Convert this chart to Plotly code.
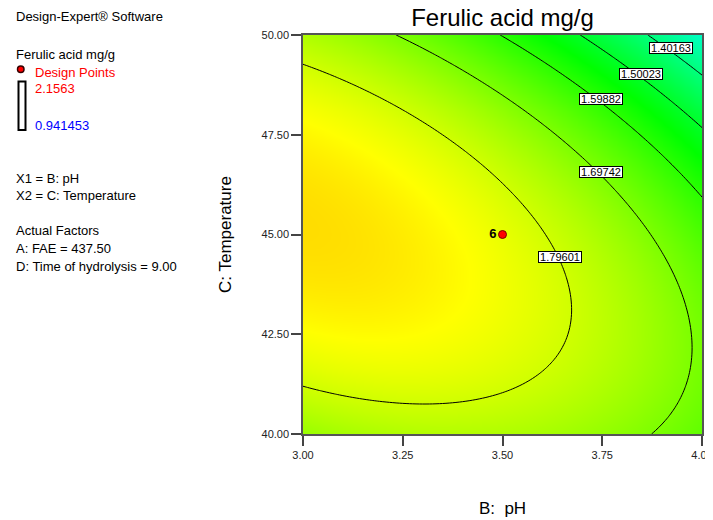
import numpy as np
import plotly.graph_objects as go

# ---- Data -------------------------------------------------------------
# Response-surface model (coded units):
# z = b0 + b1*x + b2*y + b12*x*y + b11*x^2 + b22*y^2
# x = (pH - 3.5)/0.5, y = (Temperature - 45)/5
model_terms = ["b0", "b1", "b2", "b12", "b11", "b22"]
model_coefs = [1.82647, -0.12818, -0.08037, -0.09426, -0.06140, -0.14981]

ph_range = [3.00, 4.00]
temp_range = [40.00, 50.00]
ph_center, ph_step = 3.5, 0.5
temp_center, temp_step = 45.0, 5.0

contour_levels = [1.40163, 1.50023, 1.59882, 1.69742, 1.79601]
label_ph = [3.922, 3.848, 3.747, 3.747, 3.643]
label_temp = [49.67, 49.03, 48.39, 46.57, 44.44]

design_ph = [3.50]
design_temp = [45.00]
design_count = ["6"]

resp_min, resp_max = 0.941453, 2.1563

x_ticks = [3.00, 3.25, 3.50, 3.75, 4.00]
y_ticks = [40.00, 42.50, 45.00, 47.50, 50.00]

# ---- Surface -----------------------------------------------------------
ph = np.linspace(ph_range[0], ph_range[1], 121)
temp = np.linspace(temp_range[0], temp_range[1], 121)
PH, TT = np.meshgrid(ph, temp)
xc = (PH - ph_center) / ph_step
yc = (TT - temp_center) / temp_step
b0, b1, b2, b12, b11, b22 = model_coefs
Z = b0 + b1 * xc + b2 * yc + b12 * xc * yc + b11 * xc ** 2 + b22 * yc ** 2

FONT = "Liberation Sans, Arial, Helvetica, sans-serif"

colorscale = [
    [0.00, "rgb(0,0,255)"],
    [0.25, "rgb(0,255,255)"],
    [0.50, "rgb(0,255,0)"],
    [0.75, "rgb(255,255,0)"],
    [1.00, "rgb(255,0,0)"],
]

fig = go.Figure()
step = (contour_levels[-1] - contour_levels[0]) / (len(contour_levels) - 1)
fig.add_trace(go.Contour(
    x=ph, y=temp, z=Z,
    colorscale=colorscale, zmin=resp_min, zmax=resp_max,
    contours=dict(start=contour_levels[0], end=contour_levels[-1] + 1e-6,
                  size=step, coloring="heatmap", showlabels=False),
    line=dict(color="black", width=1, smoothing=1.0),
    showscale=False, hoverinfo="skip",
))

fig.add_trace(go.Scatter(
    x=design_ph, y=design_temp, mode="markers+text",
    marker=dict(color="red", size=8, line=dict(color="#7a0000", width=1)),
    text=["<b>%s</b>" % c for c in design_count], textposition="middle left",
    textfont=dict(family=FONT, size=13, color="black"),
    showlegend=False, hoverinfo="skip",
))

for lv, lx, ly in zip(contour_levels, label_ph, label_temp):
    fig.add_annotation(x=lx, y=ly, xref="x", yref="y", text="%.5f" % lv,
                       showarrow=False, bgcolor="white", bordercolor="black",
                       borderwidth=1, borderpad=0, width=42, height=10,
                       font=dict(family=FONT, size=11, color="black"))

# ---- Geometry (the page body adds an 8px offset) -----------------------
OFF = 8
FW, FH = 713 - OFF, 520 - OFF
L, R, T, B = 303 - OFF, 702 - OFF, 35 - OFF, 434 - OFF
W, H = R - L, B - T


def px(x):
    return (x - OFF - L) / W


def py(y):
    return (B - (y - OFF)) / H


panel = [
    ("Design-Expert® Software", 14, 17, "black"),
    ("Ferulic acid mg/g", 14, 54, "black"),
    ("Design Points", 33, 72, "red"),
    ("2.1563", 33, 88, "red"),
    ("0.941453", 33, 125, "blue"),
    ("X1 = B: pH", 14, 178, "black"),
    ("X2 = C: Temperature", 14, 195, "black"),
    ("Actual Factors", 14, 230, "black"),
    ("A: FAE = 437.50", 14, 248, "black"),
    ("D: Time of hydrolysis = 9.00", 14, 266, "black"),
]
for txt, x0, y0, col in panel:
    fig.add_annotation(x=px(x0), y=py(y0), xref="paper", yref="paper",
                       text=txt, showarrow=False, xanchor="left", yanchor="middle",
                       font=dict(family=FONT, size=13, color=col))

fig.add_shape(type="rect", xref="paper", yref="paper",
              x0=px(18.5), x1=px(25.5), y0=py(130), y1=py(81.5),
              line=dict(color="black", width=2), fillcolor="white")
fig.add_shape(type="circle", xref="paper", yref="paper",
              x0=px(17.5), x1=px(24), y0=py(72.5), y1=py(66),
              line=dict(color="#330000", width=1.5), fillcolor="red")

axis_common = dict(showgrid=False, zeroline=False, showline=True, mirror=True,
                   linecolor="#555555", linewidth=1.5, ticks="outside",
                   ticklen=10, tickwidth=1.5, tickcolor="#444444",
                   automargin=False,
                   tickfont=dict(family=FONT, size=11, color="#222222"))

fig.update_layout(
    width=FW, height=FH,
    margin=dict(l=L, r=FW - R, t=T, b=FH - B),
    paper_bgcolor="white", plot_bgcolor="white",
    title=dict(text="Ferulic acid mg/g", x=(L + R) / 2 / FW, xanchor="center",
               xref="container", yref="container", y=1 - (18 - OFF) / FH,
               yanchor="middle", automargin=False,
               font=dict(family=FONT, size=24, color="black")),
    xaxis=dict(range=ph_range, tickvals=x_ticks,
               ticktext=["%.2f" % v for v in x_ticks],
               title=dict(text="B:\u00a0 pH", standoff=42,
                          font=dict(family=FONT, size=17, color="black")),
               **axis_common),
    yaxis=dict(range=temp_range, tickvals=y_ticks,
               ticktext=["%.2f" % v for v in y_ticks],
               title=dict(text="C: Temperature", standoff=26,
                          font=dict(family=FONT, size=17, color="black")),
               **axis_common),
    showlegend=False,
)

fig.write_html("out.html")
